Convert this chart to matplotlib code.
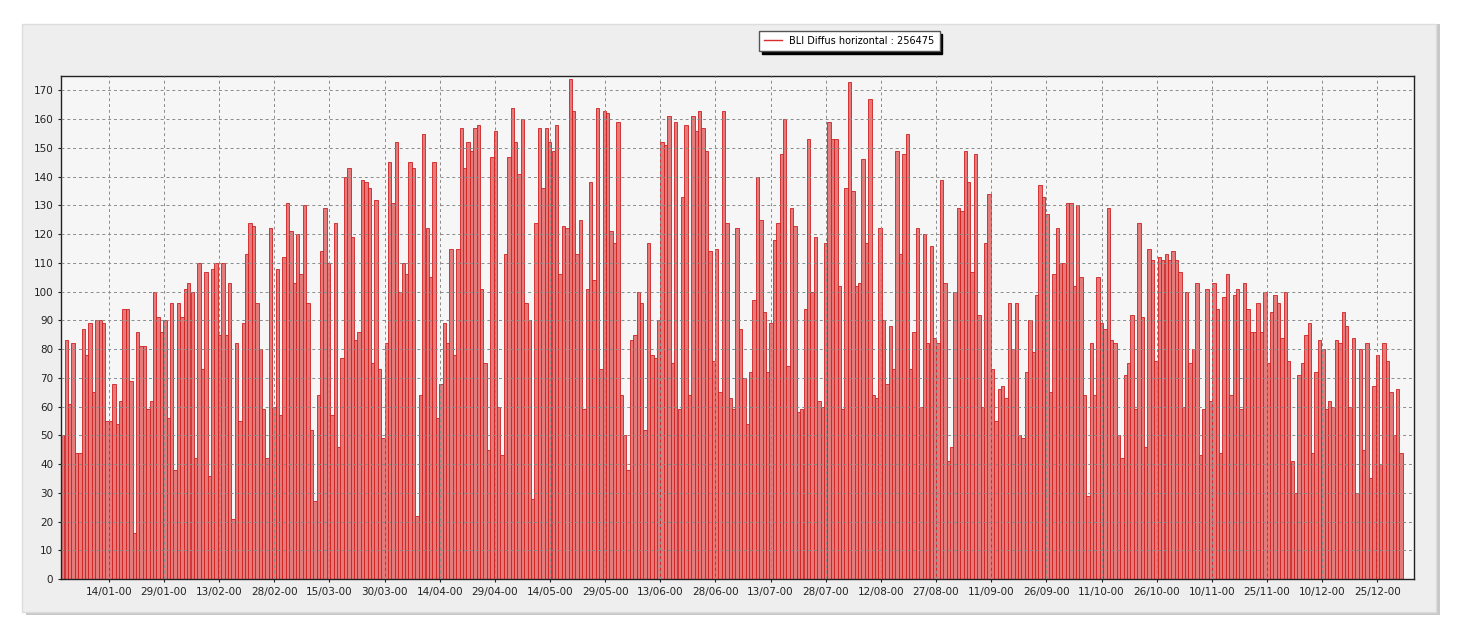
import numpy as np
import pandas as pd
import matplotlib
matplotlib.use('Agg')
import matplotlib.pyplot as plt
import matplotlib.dates as mdates
from matplotlib.patches import Rectangle

# daily peak values of the diffuse horizontal radiation
jan = [50, 83, 61, 82, 44, 44, 87, 78, 89, 65, 90, 90, 89, 55, 55, 68, 54, 62, 94, 94,
       69, 16, 86, 81, 81, 59, 62, 100, 91]
feb = [86, 90, 56, 96, 38, 96, 91, 101, 103, 100, 42, 110, 73, 107, 36, 108, 110, 85, 110, 85,
       103, 21, 82, 55, 89, 113, 124, 123, 96, 80, 59]
mar = [42, 122, 60, 108, 57, 112, 131, 121, 103, 120, 106, 130, 96, 52, 27, 64, 114, 129, 110, 57,
       124, 46, 77, 140, 143, 119, 83, 86, 139, 138, 136, 75, 132]
apr = [73, 49, 82, 145, 131, 152, 100, 110, 106, 145, 143, 22, 64, 155, 122, 105, 145, 56, 68, 89,
       82, 115, 78, 115, 157, 143, 152, 149, 157, 158, 101, 75, 45, 147]
may = [156, 60, 43, 113, 147, 164, 152, 141, 160, 96, 90, 28, 124, 157, 136, 157, 152, 149, 158, 106,
       123, 122, 174, 163, 113, 125, 59, 101, 138, 104, 164, 73, 163]
jun = [162, 121, 117, 159, 64, 50, 38, 83, 85, 100, 96, 52, 117, 78, 77, 90, 152, 151, 161, 75,
       159, 59, 133, 158, 64, 161, 156, 163, 157, 149, 114, 76, 115, 65]
jul = [163, 124, 63, 59, 122, 87, 70, 54, 72, 97, 140, 125, 93, 72, 89, 118, 124, 148, 160, 74,
       129, 123, 58, 59, 94, 153, 100, 119, 62, 60, 117, 159, 153, 153, 102, 59]
aug = [136, 173, 135, 102, 103, 146, 117, 167, 64, 63, 122, 90, 68, 88, 73, 149, 113, 148, 155, 73,
       86, 122, 60, 120, 82, 116, 84, 82, 139, 103, 41, 46, 100, 129, 128]
sep = [149, 138, 107, 148, 92, 60, 117, 134, 73, 55, 66, 67, 63, 96, 80, 96, 50, 49, 72, 90,
       79, 99, 137, 133, 127, 65, 106, 122, 110, 110, 131, 131, 102, 130, 105, 64, 29]
octo = [82, 64, 105, 89, 87, 129, 83, 82, 50, 42, 71, 75, 92, 59, 124, 91, 46, 115, 111, 76,
        112, 111, 113, 111, 114, 111, 107, 60, 100, 75, 80, 103, 43, 59, 101, 62, 103]
nov = [94, 44, 98, 106, 64, 99, 101, 59, 103, 94, 86, 86, 96, 86, 100, 75, 93, 99, 96, 84,
       100, 76, 41, 30, 71, 75, 85, 89, 44, 72, 83, 80, 59]
dec = [62, 60, 83, 82, 93, 88, 60, 84, 30, 80, 45, 82, 35, 67, 78, 40, 82, 76, 65, 50, 66, 44]

peaks = np.array(jan + feb + mar + apr + may + jun + jul + aug + sep + octo + nov + dec)
label = 'BLI Diffus horizontal : 256475'

# the series covers a 365-day year, labelled "-00" on the axis
times = pd.date_range('2001-01-01 12:00', '2001-12-31 12:00', periods=len(peaks))
tick_dates = pd.date_range('2001-01-14', '2001-12-25', freq='15D')

fig = plt.figure(figsize=(14.62, 6.29), dpi=100)
fig.patch.set_facecolor('white')
# grey panel behind the chart
fig.patches.append(Rectangle((0.018, 0.022), 0.967, 0.94, transform=fig.transFigure,
                             facecolor='#c8c8c8', edgecolor='none', zorder=-10))
fig.patches.append(Rectangle((0.015, 0.027), 0.967, 0.935, transform=fig.transFigure,
                             facecolor='#eeeeee', edgecolor='#dddddd', zorder=-9))

ax = fig.add_axes([0.0417, 0.0795, 0.9255, 0.7995])
ax.set_facecolor('#f6f6f6')

ax.bar(times, peaks, width=0.92, color='#e57a7a', edgecolor='#d01f1f', linewidth=0.6, zorder=2)

ax.set_ylim(0, 175)
ax.set_yticks(np.arange(0, 171, 10))
ax.set_xlim(pd.Timestamp('2001-01-01'), pd.Timestamp('2002-01-04'))
ax.set_xticks(tick_dates)
ax.xaxis.set_major_formatter(mdates.DateFormatter('%d/%m-00'))

ax.grid(True, linestyle=(0, (3, 3)), color='#8a8a8a', linewidth=0.7, zorder=1)
ax.set_axisbelow(False)
ax.tick_params(labelsize=7.5, length=2, colors='#222222')
for s in ax.spines.values():
    s.set_color('#222222')
    s.set_linewidth(1.0)

line = plt.Line2D([], [], color='#d92b2b', linewidth=1)
leg = fig.legend([line], [label], loc='center', bbox_to_anchor=(0.581, 0.935),
                 fontsize=7, frameon=True, fancybox=False, shadow={'color': 'black', 'alpha': 1},
                 handlelength=1.8, borderpad=0.5)
leg.get_frame().set_edgecolor('#555555')
leg.get_frame().set_facecolor('white')

plt.savefig('out.png', dpi=100)
